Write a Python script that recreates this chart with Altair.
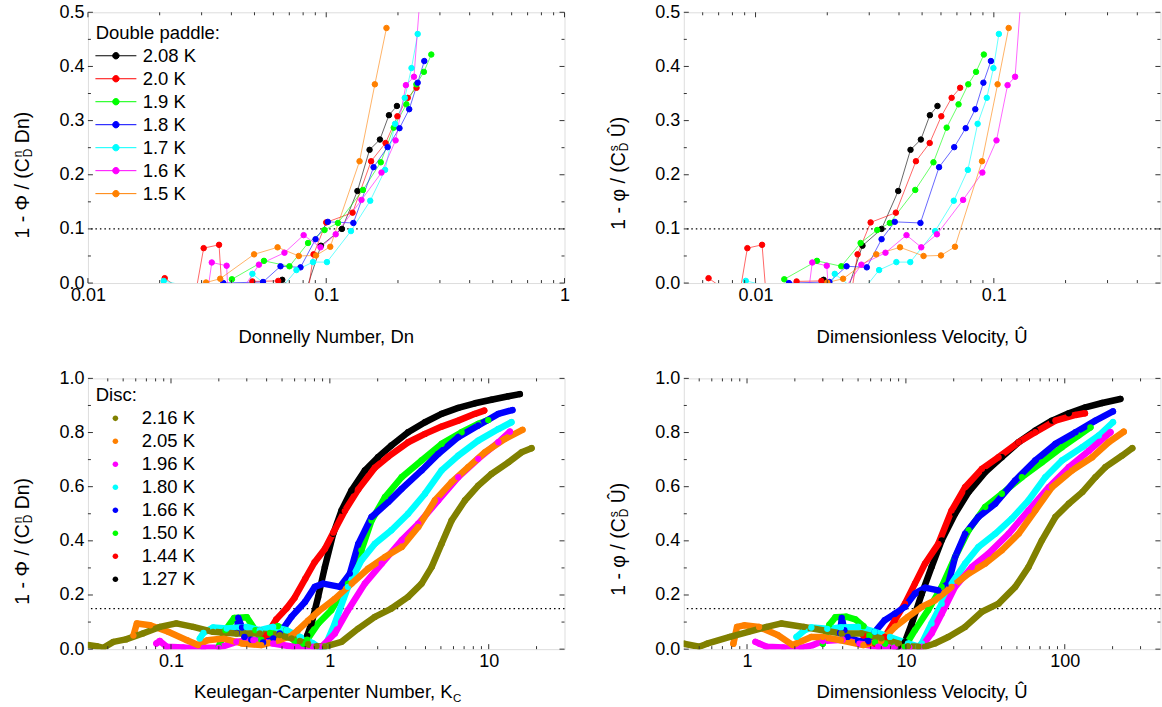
import altair as alt
import pandas as pd

FONT = "Liberation Sans"
W, H = 477, 271

# ---------------- Double paddle (top panels) ----------------
DP_LABELS = ["2.08 K", "2.0 K", "1.9 K", "1.8 K", "1.7 K", "1.6 K", "1.5 K"]
DP_COLORS = ["#000000", "#ff0000", "#00ff00", "#0000ff", "#00ffff", "#ff00ff", "#ff8000"]

Y_208 = [0.006, -0.03, 0.069, 0.100, 0.170, 0.246, 0.265, 0.310, 0.327]
DN_208 = [0.0654, 0.080, 0.095, 0.1164, 0.1352, 0.152, 0.168, 0.1833, 0.198]
U_208 = [0.0193, 0.0236, 0.0281, 0.0338, 0.0397, 0.0447, 0.0494, 0.0539, 0.058]

Y_20 = [0.009, -0.03, 0.0645, 0.0706, -0.05, 0.003, 0.004, -0.03, 0.053, 0.112, 0.130, 0.225, 0.2586, 0.308, 0.342, 0.3606]
DN_20 = [0.0210, 0.028, 0.0306, 0.0355, 0.037, 0.049, 0.0629, 0.083, 0.0885, 0.100, 0.129, 0.1543, 0.1774, 0.1989, 0.2198, 0.2393]
U_20 = [0.00635, 0.0085, 0.00924, 0.01065, 0.0112, 0.01487, 0.0189, 0.025, 0.0268, 0.0304, 0.0388, 0.0471, 0.0538, 0.0602, 0.0665, 0.0722]

Y_19 = [0.007, 0.041, 0.031, 0.074, 0.098, 0.111, 0.172, 0.223, 0.287, 0.330, 0.367, 0.390, 0.422]
DN_19 = [0.0402, 0.0548, 0.0701, 0.0839, 0.0984, 0.112, 0.1426, 0.1694, 0.192, 0.217, 0.239, 0.257, 0.276]
U_19 = [0.0132, 0.0181, 0.0229, 0.0276, 0.0324, 0.0366, 0.0468, 0.0558, 0.0634, 0.0711, 0.0781, 0.0842, 0.0908]

Y_18 = [0.0, 0.002, 0.031, 0.029, 0.081, 0.113, 0.111, 0.214, 0.251, 0.286, 0.321, 0.370, 0.410]
DN_18 = [0.037, 0.0543, 0.0643, 0.078, 0.0902, 0.1016, 0.130, 0.158, 0.181, 0.203, 0.223, 0.242, 0.258]
U_18 = [0.0138, 0.0204, 0.0241, 0.0293, 0.0338, 0.0384, 0.0492, 0.0589, 0.0682, 0.0762, 0.0836, 0.0904, 0.0972]

Y_17 = [0.004, -0.03, 0.017, -0.02, 0.024, 0.0387, 0.0387, 0.096, 0.152, 0.209, 0.294, 0.342, 0.397, 0.460]
DN_17 = [0.0208, 0.045, 0.049, 0.062, 0.075, 0.088, 0.1007, 0.127, 0.153, 0.1766, 0.1945, 0.2136, 0.228, 0.242]
U_17 = [0.0091, 0.0198, 0.0215, 0.0275, 0.033, 0.039, 0.0446, 0.0567, 0.0679, 0.0778, 0.0855, 0.0934, 0.0996, 0.105]

Y_16 = [-0.05, 0.038, 0.032, -0.05, 0.034, 0.056, 0.0885, 0.066, 0.090, 0.1536, 0.204, 0.2635, 0.3655, 0.381, 0.70]
DN_16 = [0.031, 0.0331, 0.0382, 0.039, 0.0522, 0.0668, 0.0804, 0.0946, 0.1096, 0.1406, 0.1706, 0.1955, 0.216, 0.2335, 0.265]
U_16 = [0.0163, 0.0173, 0.0199, 0.0205, 0.0278, 0.0351, 0.043, 0.0496, 0.0577, 0.0743, 0.0895, 0.1026, 0.1142, 0.1228, 0.139]

Y_15 = [0.001, 0.008, 0.053, 0.066, 0.050, 0.051, 0.067, 0.225, 0.367, 0.471]
DN_15 = [0.0313, 0.0359, 0.0498, 0.0625, 0.0767, 0.0906, 0.104, 0.138, 0.160, 0.179]
U_15 = [0.020, 0.0233, 0.0321, 0.0404, 0.0507, 0.060, 0.0687, 0.0892, 0.1037, 0.1154]

# ---------------- Disc (bottom panels) ----------------
DISC_LABELS = ["2.16 K", "2.05 K", "1.96 K", "1.80 K", "1.66 K", "1.50 K", "1.44 K", "1.27 K"]
DISC_COLORS = ["#808000", "#ff8000", "#ff00ff", "#00ffff", "#0000ff", "#00ff00", "#ff0000", "#000000"]

KC_216 = [0.030, 0.034, 0.0375, 0.0434, 0.052, 0.0665, 0.085, 0.108, 0.138, 0.184, 0.258, 0.362, 0.484, 0.574, 0.647, 0.73, 0.824, 0.93, 1.184, 1.51, 1.92, 2.44, 3.11, 3.78, 4.37, 5.05, 5.84, 7.08, 8.59, 10.4, 13.3, 16.1, 18.6]
KY_216 = [0.015, 0.011, 0.005, 0.027, 0.036, 0.058, 0.082, 0.095, 0.082, 0.064, 0.058, 0.058, 0.052, 0.04, 0.03, 0.018, 0.011, 0.009, 0.027, 0.076, 0.119, 0.150, 0.193, 0.242, 0.303, 0.389, 0.475, 0.549, 0.604, 0.647, 0.690, 0.727, 0.742]
KC_205 = [0.058, 0.061, 0.074, 0.096, 0.126, 0.148, 0.17, 0.215, 0.28, 0.37, 0.48, 0.574, 0.63, 0.73, 0.85, 1.07, 1.37, 1.74, 2.22, 2.83, 3.6, 4.58, 5.84, 7.43, 9.47, 12.6, 16.3]
KY_205 = [0.05, 0.095, 0.088, 0.064, 0.033, 0.015, 0.033, 0.039, 0.021, 0.015, 0.033, 0.05, 0.07, 0.105, 0.14, 0.185, 0.242, 0.297, 0.340, 0.377, 0.451, 0.549, 0.617, 0.672, 0.727, 0.776, 0.81]
KC_196 = [0.081, 0.085, 0.094, 0.12, 0.16, 0.2, 0.258, 0.33, 0.44, 0.588, 0.785, 0.886, 1.075, 1.30, 1.66, 2.12, 2.83, 3.6, 4.81, 6.43, 8.59, 11.5, 13.6]
KY_196 = [0.021, 0.03, 0.009, 0.006, 0.005, 0.005, 0.027, 0.033, 0.021, 0.009, 0.009, 0.009, 0.058, 0.144, 0.242, 0.316, 0.402, 0.463, 0.549, 0.635, 0.703, 0.764, 0.803]
KC_180 = [0.152, 0.16, 0.184, 0.224, 0.299, 0.362, 0.44, 0.533, 0.647, 0.785, 0.865, 0.93, 1.075, 1.30, 1.58, 1.92, 2.44, 3.11, 3.97, 5.05, 6.43, 8.59, 11.5, 13.9]
KY_180 = [0.039, 0.06, 0.08, 0.076, 0.082, 0.07, 0.082, 0.07, 0.045, 0.021, 0.005, 0.009, 0.095, 0.230, 0.328, 0.389, 0.439, 0.500, 0.574, 0.660, 0.715, 0.770, 0.813, 0.838]
KC_166 = [0.26, 0.265, 0.28, 0.29, 0.32, 0.38, 0.44, 0.484, 0.574, 0.697, 0.804, 0.908, 1.156, 1.336, 1.51, 1.83, 2.33, 2.83, 3.78, 4.81, 6.43, 8.59, 11.5, 14.1]
KY_166 = [0.06, 0.115, 0.08, 0.045, 0.035, 0.025, 0.04, 0.058, 0.12, 0.174, 0.230, 0.242, 0.230, 0.279, 0.389, 0.488, 0.543, 0.592, 0.660, 0.721, 0.783, 0.826, 0.869, 0.883]
KC_150 = [0.20, 0.22, 0.25, 0.30, 0.34, 0.37, 0.42, 0.47, 0.53, 0.60, 0.68, 0.72, 0.845, 1.02, 1.30, 1.58, 1.83, 2.22, 2.83, 3.78, 5.05, 6.75, 8.59, 9.93]
KY_150 = [0.01, 0.07, 0.115, 0.118, 0.07, 0.035, 0.06, 0.085, 0.07, 0.03, 0.02, 0.035, 0.095, 0.144, 0.242, 0.365, 0.475, 0.561, 0.635, 0.697, 0.758, 0.801, 0.832, 0.846]
KC_144 = [0.36, 0.38, 0.40, 0.46, 0.533, 0.60, 0.70, 0.80, 0.93, 1.05, 1.24, 1.51, 1.92, 2.33, 3.11, 3.97, 5.05, 6.43, 8.19, 9.37]
KY_144 = [0.07, 0.04, 0.052, 0.11, 0.15, 0.19, 0.26, 0.32, 0.37, 0.43, 0.51, 0.59, 0.67, 0.711, 0.764, 0.795, 0.822, 0.844, 0.869, 0.881]
KC_127 = [0.70, 0.72, 0.767, 0.844, 0.93, 1.05, 1.184, 1.368, 1.66, 2.01, 2.44, 3.11, 3.97, 5.05, 6.43, 8.19, 10.4, 13.3, 15.7]
KY_127 = [0.02, 0.05, 0.095, 0.193, 0.303, 0.426, 0.512, 0.586, 0.66, 0.709, 0.752, 0.801, 0.838, 0.869, 0.891, 0.908, 0.921, 0.934, 0.942]

UH_216 = [0.4, 0.5, 0.56, 0.78, 1.02, 1.33, 1.65, 2.28, 3.93, 5.25, 7.0, 8.9, 10.3, 12.0, 13.2, 15.2, 18.5, 23.6, 30.1, 38.3, 48.8, 59.1, 71.8, 87.3, 106, 129, 156, 180, 230, 266]
UY_216 = [0.02, 0.009, 0.02, 0.045, 0.064, 0.082, 0.095, 0.082, 0.058, 0.058, 0.04, 0.021, 0.011, 0.009, 0.009, 0.021, 0.045, 0.082, 0.138, 0.168, 0.23, 0.303, 0.402, 0.488, 0.537, 0.58, 0.635, 0.672, 0.715, 0.742]
UH_205 = [0.82, 0.865, 0.96, 1.19, 1.56, 1.94, 2.54, 3.0, 3.9, 5.4, 7.0, 8.53, 10.3, 12.6, 15.2, 19.4, 24.8, 31.6, 40.2, 51.2, 65.2, 83.1, 111, 149, 189, 235]
UY_205 = [0.02, 0.082, 0.088, 0.082, 0.052, 0.015, 0.045, 0.045, 0.033, 0.015, 0.03, 0.082, 0.119, 0.156, 0.18, 0.23, 0.279, 0.316, 0.365, 0.426, 0.512, 0.598, 0.66, 0.709, 0.764, 0.803]
UH_196 = [1.13, 1.2, 1.33, 1.7, 2.2, 2.6, 3.0, 4.0, 5.1, 6.7, 8.5, 10.5, 12.6, 14.5, 16.8, 20.4, 26, 33.1, 44.3, 59.1, 79.3, 106, 142, 194]
UY_196 = [0.027, 0.02, 0.009, 0.006, 0.005, 0.015, 0.03, 0.035, 0.02, 0.009, 0.006, 0.006, 0.009, 0.058, 0.131, 0.23, 0.303, 0.353, 0.426, 0.512, 0.598, 0.672, 0.733, 0.801]
UH_180 = [2.05, 2.3, 2.54, 3.2, 3.9, 5.0, 6.37, 7.94, 10.3, 12.0, 12.6, 14.5, 16.8, 19.4, 23.6, 28.6, 36.5, 46.4, 59.1, 75.5, 96.1, 129, 164, 201]
UY_180 = [0.045, 0.07, 0.08, 0.075, 0.08, 0.082, 0.064, 0.045, 0.021, 0.009, 0.021, 0.095, 0.168, 0.242, 0.316, 0.377, 0.426, 0.482, 0.549, 0.635, 0.697, 0.746, 0.789, 0.838]
UH_166 = [3.85, 3.95, 4.1, 4.3, 5.0, 5.8, 6.37, 7.36, 8.53, 9.86, 11.4, 13.2, 16.0, 18.5, 20.4, 23.6, 28.6, 36.5, 48.8, 65.2, 87.3, 117, 156, 201]
UY_166 = [0.06, 0.115, 0.07, 0.045, 0.03, 0.03, 0.064, 0.107, 0.131, 0.156, 0.205, 0.227, 0.217, 0.242, 0.34, 0.426, 0.488, 0.537, 0.623, 0.697, 0.758, 0.801, 0.844, 0.878]
UH_150 = [3.0, 3.3, 3.6, 4.2, 4.8, 5.4, 5.9, 6.4, 7.4, 8.5, 9.86, 11.4, 13.8, 16.8, 20.4, 24.8, 31.6, 40.2, 53.7, 71.8, 96.1, 122, 145]
UY_150 = [0.02, 0.09, 0.118, 0.12, 0.11, 0.085, 0.05, 0.025, 0.02, 0.01, 0.009, 0.07, 0.144, 0.23, 0.34, 0.439, 0.525, 0.574, 0.635, 0.69, 0.746, 0.789, 0.819]
UH_144 = [5.4, 5.8, 6.4, 7.36, 8.53, 9.86, 11.4, 13.2, 16.0, 19.4, 23.6, 30.1, 38.3, 51.2, 65.2, 87.3, 117, 134]
UY_144 = [0.05, 0.025, 0.02, 0.045, 0.107, 0.168, 0.242, 0.316, 0.389, 0.512, 0.598, 0.666, 0.709, 0.764, 0.801, 0.844, 0.865, 0.871]
UH_127 = [8.9, 9.86, 10.9, 12.6, 14.5, 16.8, 20.4, 24.8, 31.6, 40.2, 51.2, 65.2, 83.1, 106, 135, 172, 224]
UY_127 = [0.009, 0.027, 0.095, 0.205, 0.303, 0.402, 0.5, 0.58, 0.654, 0.709, 0.764, 0.807, 0.844, 0.871, 0.893, 0.909, 0.924]

# ---------------- axis ticks ----------------
TOP_Y_MAJ = [0, 0.1, 0.2, 0.3, 0.4, 0.5]
TOP_Y_MIN = [0.05, 0.15, 0.25, 0.35, 0.45]
BOT_Y_MAJ = [0, 0.2, 0.4, 0.6, 0.8, 1.0]
BOT_Y_MIN = [0.1, 0.3, 0.5, 0.7, 0.9]
TL_X_MAJ = [0.01, 0.1, 1]
TL_X_MIN = [0.02, 0.03, 0.04, 0.05, 0.06, 0.07, 0.08, 0.09, 0.2, 0.3, 0.4, 0.5, 0.6, 0.7, 0.8, 0.9]
TR_X_MAJ = [0.01, 0.1]
TR_X_MIN = [0.006, 0.007, 0.008, 0.009, 0.02, 0.03, 0.04, 0.05, 0.06, 0.07, 0.08, 0.09, 0.2, 0.3, 0.4]
BL_X_MAJ = [0.1, 1, 10]
BL_X_MIN = [0.04, 0.05, 0.06, 0.07, 0.08, 0.09, 0.2, 0.3, 0.4, 0.5, 0.6, 0.7, 0.8, 0.9, 2, 3, 4, 5, 6, 7, 8, 9, 20]
BR_X_MAJ = [1, 10, 100]
BR_X_MIN = [0.5, 0.6, 0.7, 0.8, 0.9, 2, 3, 4, 5, 6, 7, 8, 9, 20, 30, 40, 50, 60, 70, 80, 90, 200, 300]

ONE = pd.DataFrame({"z": [0]})
TICK_C = "#333333"
TOP_SYM = "M-2.05,0L2.05,0M0.32,0A0.32,0.32,0,1,1,-0.32,0A0.32,0.32,0,1,1,0.32,0Z"
BOT_SYM = "M0.28,0A0.28,0.28,0,1,1,-0.28,0A0.28,0.28,0,1,1,0.28,0Z"
LAB_FS = 18
TITLE_FS = 18.5


def long_df(labels, xs, ys, reverse=False):
    rows = []
    order = list(zip(labels, xs, ys))
    if reverse:
        order = order[::-1]
    for lab, xv, yv in order:
        for i, (a, b) in enumerate(zip(xv, yv)):
            rows.append({"s": lab, "x": a, "y": b, "i": i})
    return pd.DataFrame(rows)


def text(t, x, y, size=18, align="left", angle=0):
    return alt.Chart(ONE).mark_text(
        text=t, angle=angle, align=align, baseline="alphabetic",
        fontSize=size, font=FONT, color="black"
    ).encode(x=alt.value(x), y=alt.value(y))


def panel(df, labels, colors, xdom, ydom, xlab, ylab, xmaj, xmin, ymaj, ymin,
          ref, top, ytitle, p, xtitle, legend_title):
    xsc = alt.Scale(type="log", domain=xdom, nice=False)
    ysc = alt.Scale(type="linear", domain=ydom, nice=False, zero=False)
    xax = alt.Axis(values=xlab, format="~g", ticks=False, domain=False, grid=False,
                   labelFontSize=LAB_FS, labelFont=FONT, labelPadding=3, labelFlush=False,
                   labelOverlap=False, title=None, labelColor="black")
    yax = alt.Axis(values=ylab, format=".1f", ticks=False, domain=False, grid=False,
                   labelFontSize=LAB_FS, labelFont=FONT, labelPadding=4, labelFlush=False,
                   labelOverlap=False, title=None, labelColor="black")

    def X(f):
        return alt.X(f, type="quantitative", scale=xsc, axis=xax)

    def Y(f):
        return alt.Y(f, type="quantitative", scale=ysc, axis=yax)

    cs = alt.Scale(domain=labels, range=colors)
    show_legend = legend_title is not None
    layers = []
    layers.append(
        alt.Chart(pd.DataFrame({"r": [ref]})).mark_rule(
            color="black", strokeDash=[1.5, 3], strokeWidth=1.2
        ).encode(y=Y("r"))
    )
    if top:
        leg = alt.Legend(title=None, orient="none", legendX=17.5, legendY=33,
                         symbolType=TOP_SYM, symbolSize=400, symbolStrokeWidth=1,
                         symbolOpacity=1,
                         labelFontSize=18.5, labelFont=FONT, labelOffset=16.3,
                         rowPadding=3, padding=0, labelColor="black")
        if not show_legend:
            leg = None
        layers.append(
            alt.Chart(df).mark_line(strokeWidth=1, opacity=0.6, clip=True).encode(
                x=X("x"), y=Y("y"),
                color=alt.Color("s:N", scale=cs, legend=leg),
                order=alt.Order("i:Q"))
        )
        layers.append(
            alt.Chart(df).mark_point(filled=True, size=30, opacity=1, strokeWidth=1,
                                     clip=True).encode(
                x=X("x"), y=Y("y"),
                fill=alt.Fill("s:N", scale=cs, legend=leg),
                stroke=alt.Stroke("s:N", scale=cs, legend=leg))
        )
    else:
        leg = alt.Legend(title=None, orient="none", legendX=17.5, legendY=30,
                         symbolType=BOT_SYM, symbolSize=400, symbolStrokeWidth=0,
                         symbolOpacity=1,
                         labelFontSize=18.5, labelFont=FONT, labelOffset=16.3,
                         rowPadding=3, padding=0, labelColor="black")
        if not show_legend:
            leg = None
        layers.append(
            alt.Chart(df).mark_line(strokeWidth=6.5, clip=True, strokeCap="round",
                                    strokeJoin="round").encode(
                x=X("x"), y=Y("y"),
                color=alt.Color("s:N", scale=cs, legend=leg),
                order=alt.Order("i:Q"))
        )
        layers.append(
            alt.Chart(df).mark_circle(size=40, opacity=1, clip=True).encode(
                x=X("x"), y=Y("y"),
                fill=alt.Fill("s:N", scale=cs, legend=leg))
        )

    # inward ticks on all four sides
    for vals, ln in ((xmaj, 5), (xmin, 3)):
        d = pd.DataFrame({"t": vals})
        layers.append(alt.Chart(d).mark_rule(color=TICK_C, strokeWidth=1).encode(
            x=X("t"), y=alt.value(H), y2=alt.value(H - ln)))
        layers.append(alt.Chart(d).mark_rule(color=TICK_C, strokeWidth=1).encode(
            x=X("t"), y=alt.value(0), y2=alt.value(ln)))
    for vals, ln in ((ymaj, 5), (ymin, 3)):
        d = pd.DataFrame({"t": vals})
        layers.append(alt.Chart(d).mark_rule(color=TICK_C, strokeWidth=1).encode(
            y=Y("t"), x=alt.value(0), x2=alt.value(ln)))
        layers.append(alt.Chart(d).mark_rule(color=TICK_C, strokeWidth=1).encode(
            y=Y("t"), x=alt.value(W), x2=alt.value(W - ln)))

    # y title with stacked super/subscript
    main, sup, sub, tail = ytitle
    XT = -58.5
    layers.append(text(main, XT, p, 19.5, "right", 270))
    layers.append(text(sup, XT - 7.8, p - 1, 12, "left", 270))
    layers.append(text(sub, XT + 3.0, p - 1, 12, "left", 270))
    layers.append(text(tail, XT, p - 15, 19.5, "left", 270))

    # x title
    xt_main, xt_sub, xt_base, xt_right = xtitle
    if xt_sub:
        layers.append(text(xt_main, xt_right, xt_base, TITLE_FS, "right"))
        layers.append(text(xt_sub, xt_right + 0.5, xt_base + 4, 11.5, "left"))
    else:
        layers.append(text(xt_main, W / 2, xt_base, TITLE_FS, "center"))

    if legend_title:
        t, b = legend_title
        layers.append(text(t, 7.8, b, 18.5, "left"))

    # invisible anchor defining the outer margin
    layers.append(alt.Chart(ONE).mark_rule(color="white", strokeWidth=1).encode(
        x=alt.value(-86.2), y=alt.value(-11), y2=alt.value(-10)))

    return alt.layer(*layers).properties(width=W, height=H)


tl_df = long_df(DP_LABELS, [DN_208, DN_20, DN_19, DN_18, DN_17, DN_16, DN_15],
                [Y_208, Y_20, Y_19, Y_18, Y_17, Y_16, Y_15])
tr_df = long_df(DP_LABELS, [U_208, U_20, U_19, U_18, U_17, U_16, U_15],
                [Y_208, Y_20, Y_19, Y_18, Y_17, Y_16, Y_15])
bl_df = long_df(DISC_LABELS, [KC_216, KC_205, KC_196, KC_180, KC_166, KC_150, KC_144, KC_127],
                [KY_216, KY_205, KY_196, KY_180, KY_166, KY_150, KY_144, KY_127], reverse=True)
br_df = long_df(DISC_LABELS, [UH_216, UH_205, UH_196, UH_180, UH_166, UH_150, UH_144, UH_127],
                [UY_216, UY_205, UY_196, UY_180, UY_166, UY_150, UY_144, UY_127], reverse=True)

tl = panel(tl_df, DP_LABELS, DP_COLORS, [0.01, 1], [0, 0.5], TL_X_MAJ, TOP_Y_MAJ,
           TL_X_MAJ, TL_X_MIN, TOP_Y_MAJ, TOP_Y_MIN, 0.1, True,
           ("1 - \u03a6 / (C", "n", "D", "Dn)"), 146,
           ("Donnelly Number, Dn", None, 330.5, None), ("Double paddle:", 26.5))
tr = panel(tr_df, DP_LABELS, DP_COLORS, [0.005, 0.5], [0, 0.5], TR_X_MAJ, TOP_Y_MAJ,
           TR_X_MAJ, TR_X_MIN, TOP_Y_MAJ, TOP_Y_MIN, 0.1, True,
           ("1 - \u03c6 / (C", "s", "D", "\u00db)"), 140,
           ("Dimensionless Velocity, \u00db", None, 330.5, None), None)
bl = panel(bl_df, DISC_LABELS, DISC_COLORS, [0.03, 30], [0, 1.0], BL_X_MAJ, BOT_Y_MAJ,
           BL_X_MAJ, BL_X_MIN, BOT_Y_MAJ, BOT_Y_MIN, 0.15, False,
           ("1 - \u03a6 / (C", "n", "D", "Dn)"), 146,
           ("Keulegan-Carpenter Number, K", "C", 320, 365), ("Disc:", 22.3))
br = panel(br_df, DISC_LABELS, DISC_COLORS, [0.4, 400], [0, 1.0], BR_X_MAJ, BOT_Y_MAJ,
           BR_X_MAJ, BR_X_MIN, BOT_Y_MAJ, BOT_Y_MIN, 0.15, False,
           ("1 - \u03c6 / (C", "s", "D", "\u00db)"), 140,
           ("Dimensionless Velocity, \u00db", None, 320, None), None)

chart = alt.concat(tl, tr, bl, br, columns=2, bounds="flush",
                   spacing={"row": 95.4, "column": 119.4})
chart = chart.resolve_scale(x="independent", y="independent", color="independent",
                            fill="independent", stroke="independent")
chart = chart.resolve_legend(color="independent", fill="independent", stroke="independent")
chart = chart.properties(padding=0, background="white").configure_view(
    stroke="#333333", strokeWidth=1
).configure(font=FONT)

chart.save("out.html", embed_options={"renderer": "svg", "actions": False})
